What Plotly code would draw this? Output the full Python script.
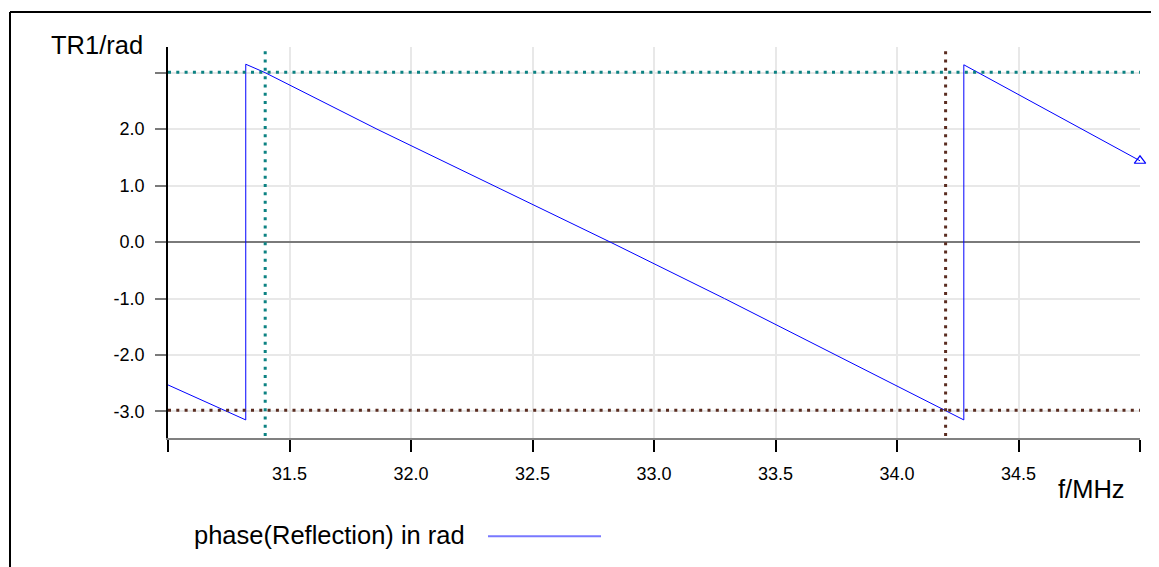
import plotly.graph_objects as go

# ---- data ----
freq_mhz = [31.0, 31.32, 31.32, 31.4, 31.86, 32.34, 32.82, 33.29, 33.75, 34.2, 34.275, 34.275, 35.0]
phase_rad = [-2.53, -3.15, 3.15, 3.0, 2.0, 1.0, 0.0, -1.0, -2.0, -2.98, -3.15, 3.14, 1.44]

marker_freq = [31.4, 34.2]
marker_phase = [3.01, -2.98]
marker_colors = ["#0c8282", "#5a2c20"]

x_tickvals = [31.0, 31.5, 32.0, 32.5, 33.0, 33.5, 34.0, 34.5, 35.0]
x_ticktext = ["", "31.5", "32.0", "32.5", "33.0", "33.5", "34.0", "34.5", ""]
y_tickvals = [-3, -2, -1, 0, 1, 2, 3]
y_ticktext = ["-3.0", "-2.0", "-1.0", "0.0", "1.0", "2.0", ""]

series_name = "phase(Reflection) in rad"
FONT = "Liberation Sans, Arial, sans-serif"

OFF = 8  # page body margin
W, H = 1159 - OFF, 567 - OFF
# plot area in screen pixels: x 168..1140, y 47..438.5
L = 168 - OFF
T = 47 - OFF
R = W - (1140 - OFF)
B = H - (438.5 - OFF)
pw, ph = W - L - R, H - T - B


def px_x(px):
    return (px - OFF - L) / pw


def px_y(py):
    return (H - B - (py - OFF)) / ph


fig = go.Figure()
fig.add_trace(go.Scatter(
    x=freq_mhz, y=phase_rad, mode="lines",
    line=dict(color="#0000ff", width=1), name=series_name,
    showlegend=False, cliponaxis=False,
))
fig.add_trace(go.Scatter(
    x=freq_mhz[-1:], y=phase_rad[-1:], mode="markers",
    marker=dict(symbol="triangle-up-open", size=10, color="#0000ff",
                line=dict(width=1.2, color="#0000ff")),
    showlegend=False, cliponaxis=False,
))

shapes = []
for f, p, c in zip(marker_freq, marker_phase, marker_colors):
    dot = dict(color=c, width=3, dash="3px,5.3px")
    shapes.append(dict(type="line", xref="x", yref="y domain", x0=f, x1=f,
                       y0=0.005, y1=1, line=dot, layer="above"))
    shapes.append(dict(type="line", xref="x domain", yref="y", x0=0, x1=1,
                       y0=p, y1=p, line=dot, layer="above"))

# outer frame (cropped at right/bottom)
shapes.append(dict(type="line", xref="paper", yref="paper",
                   x0=px_x(10), x1=px_x(10), y0=px_y(12), y1=px_y(600),
                   line=dict(color="black", width=2)))
shapes.append(dict(type="line", xref="paper", yref="paper",
                   x0=px_x(10), x1=px_x(1200), y0=px_y(12), y1=px_y(12),
                   line=dict(color="black", width=2)))
# legend sample line
shapes.append(dict(type="line", xref="paper", yref="paper",
                   x0=px_x(488), x1=px_x(601), y0=px_y(537), y1=px_y(537),
                   line=dict(color="#7878ff", width=2)))

annotations = [
    dict(text="TR1/rad", xref="paper", yref="paper", x=px_x(49), y=px_y(45),
         xanchor="left", yanchor="middle", showarrow=False,
         font=dict(family=FONT, size=25.5, color="black")),
    dict(text="f/MHz", xref="paper", yref="paper", x=px_x(1056), y=px_y(490),
         xanchor="left", yanchor="middle", showarrow=False,
         font=dict(family=FONT, size=25.5, color="black")),
    dict(text=series_name, xref="paper", yref="paper", x=px_x(192), y=px_y(536),
         xanchor="left", yanchor="middle", showarrow=False,
         font=dict(family=FONT, size=25.5, color="black")),
]

fig.update_layout(
    width=W, height=H,
    margin=dict(l=L, r=R, t=T, b=B, pad=0),
    paper_bgcolor="white", plot_bgcolor="white",
    font=dict(family=FONT, color="black"),
    shapes=shapes, annotations=annotations,
    showlegend=False,
)
fig.update_xaxes(
    range=[31.0, 35.0], tickmode="array", tickvals=x_tickvals, ticktext=x_ticktext,
    showgrid=True, gridcolor="#e8e8e8", gridwidth=1.5,
    showline=True, linecolor="#808080", linewidth=2,
    ticks="outside", ticklen=12, tickcolor="black", tickwidth=1.5,
    tickfont=dict(family=FONT, size=18, color="black"),
    ticklabelstandoff=6, zeroline=False,
)
fig.update_yaxes(
    range=[-3.47, 3.455], tickmode="array", tickvals=y_tickvals, ticktext=y_ticktext,
    showgrid=True, gridcolor="#e8e8e8", gridwidth=1.5,
    showline=True, linecolor="black", linewidth=1.5,
    ticks="outside", ticklen=11, tickcolor="#7a7a7a", tickwidth=1.5,
    tickfont=dict(family=FONT, size=18, color="black"),
    ticklabelstandoff=7,
    zeroline=True, zerolinecolor="#7a7a7a", zerolinewidth=2,
)

fig.write_html("out.html")
